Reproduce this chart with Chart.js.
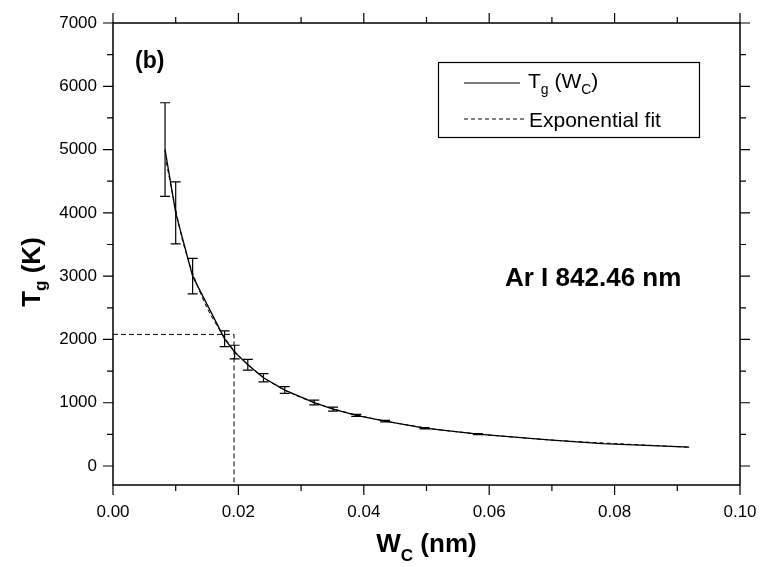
<!DOCTYPE html>
<html>
<head>
<meta charset="utf-8">
<script src="https://cdn.jsdelivr.net/npm/chart.js@4.4.1/dist/chart.umd.min.js"></script>
<style>
  html, body { margin: 0; padding: 0; background: #fff; }
  #wrap { width: 764px; height: 567px; }
</style>
</head>
<body>
<div id="wrap"><canvas id="chart"></canvas></div>
<script>
// measured points T_g(W_C) with error bars
const wc    = [0.0083, 0.0100, 0.0127, 0.0178, 0.0194, 0.0215, 0.0240, 0.0274, 0.0321, 0.0351, 0.0388, 0.0434, 0.0497, 0.0582, 0.0700, 0.0780, 0.0919];
const tg    = [5000, 4000, 3000, 2010, 1800, 1600, 1395, 1200, 1003, 898, 800, 708, 598, 503, 410, 355, 297];
const tgErr = [740, 490, 280, 125, 108, 85, 65, 53, 37, 32, 15, 12, 10, 8, 0, 0, 0];

// exponential fit curve
const fitWc = [0.0085, 0.0095, 0.0110, 0.0127, 0.0150, 0.0178, 0.0200, 0.0240, 0.0280, 0.0330, 0.0400, 0.0500, 0.0600, 0.0700, 0.0800, 0.0919];
const fitTg = [4800, 4300, 3600, 3050, 2500, 2030, 1750, 1400, 1170, 970, 780, 600, 490, 410, 355, 297];

// dashed guide lines
const guideWc = [0, 0.0193, 0.0193];
const guideTg = [2080, 2080, -300];

const xTicks = [0, 0.02, 0.04, 0.06, 0.08, 0.10];
const yTicks = [0, 1000, 2000, 3000, 4000, 5000, 6000, 7000];

const FONT = '"Liberation Sans", Arial, Helvetica, sans-serif';

function toPoints(xs, ys) {
    return xs.map((v, i) => ({ x: v, y: ys[i] }));
}

// draw text made of parts (normal + subscript)
function drawParts(ctx, parts, x, y, weight) {
    let cx = x;
    parts.forEach(p => {
        ctx.font = weight + ' ' + p.size + 'px ' + FONT;
        ctx.fillText(p.t, cx, y + (p.dy || 0));
        cx += ctx.measureText(p.t).width;
    });
    return cx - x;
}

function partsWidth(ctx, parts, weight) {
    let w = 0;
    parts.forEach(p => {
        ctx.font = weight + ' ' + p.size + 'px ' + FONT;
        w += ctx.measureText(p.t).width;
    });
    return w;
}

const framePlugin = {
    id: 'frame',
    afterDatasetsDraw(chart) {
        const ctx = chart.ctx;
        const a = chart.chartArea;
        const x = chart.scales.x, y = chart.scales.y;
        ctx.save();
        ctx.strokeStyle = '#000';
        ctx.fillStyle = '#000';

        // error bars
        ctx.lineWidth = 1.2;
        wc.forEach((v, i) => {
            const e = tgErr[i];
            if (!e) return;
            const px = x.getPixelForValue(v);
            const top = y.getPixelForValue(tg[i] + e);
            const bot = y.getPixelForValue(tg[i] - e);
            ctx.beginPath();
            ctx.moveTo(px, top); ctx.lineTo(px, bot);
            ctx.moveTo(px - 5, top); ctx.lineTo(px + 5, top);
            ctx.moveTo(px - 5, bot); ctx.lineTo(px + 5, bot);
            ctx.stroke();
        });

        // box
        ctx.lineWidth = 1.5;
        ctx.strokeRect(a.left, a.top, a.right - a.left, a.bottom - a.top);

        // ticks, major + minor
        ctx.lineWidth = 1.2;
        ctx.beginPath();
        for (let i = 0; i <= 14; i++) {
            const py = y.getPixelForValue(i * 500);
            const len = i % 2 === 0 ? 10 : 6;
            ctx.moveTo(a.left, py); ctx.lineTo(a.left - len, py);
            ctx.moveTo(a.right, py); ctx.lineTo(a.right + len, py);
        }
        for (let i = 0; i <= 10; i++) {
            const px = x.getPixelForValue(i * 0.01);
            const len = i % 2 === 0 ? 10 : 6;
            ctx.moveTo(px, a.bottom); ctx.lineTo(px, a.bottom + len);
            ctx.moveTo(px, a.top); ctx.lineTo(px, a.top - len);
        }
        ctx.stroke();

        // legend
        ctx.lineWidth = 1.2;
        ctx.strokeRect(438.5, 62.5, 261, 75);
        ctx.lineWidth = 1;
        ctx.beginPath();
        ctx.moveTo(464, 83); ctx.lineTo(520, 83);
        ctx.stroke();
        ctx.setLineDash([4, 3]);
        ctx.beginPath();
        ctx.moveTo(464, 119); ctx.lineTo(524, 119);
        ctx.stroke();
        ctx.setLineDash([]);
        ctx.textBaseline = 'alphabetic';
        ctx.textAlign = 'left';
        drawParts(ctx, [
            { t: 'T', size: 21 },
            { t: 'g', size: 14, dy: 6 },
            { t: ' (W', size: 21 },
            { t: 'C', size: 14, dy: 6 },
            { t: ')', size: 21 }
        ], 528, 88, 'normal');
        drawParts(ctx, [{ t: 'Exponential fit', size: 21 }], 529, 127, 'normal');

        ctx.restore();
    },
    afterDraw(chart) {
        const ctx = chart.ctx;
        const a = chart.chartArea;
        ctx.save();
        ctx.fillStyle = '#000';
        ctx.textBaseline = 'alphabetic';
        ctx.textAlign = 'left';

        drawParts(ctx, [{ t: '(b)', size: 23 }], 135, 68, 'bold');
        drawParts(ctx, [{ t: 'Ar I 842.46 nm', size: 26 }], 505, 286, 'bold');

        // x title
        const xParts = [
            { t: 'W', size: 26 },
            { t: 'C', size: 17, dy: 9 },
            { t: ' (nm)', size: 26 }
        ];
        const xw = partsWidth(ctx, xParts, 'bold');
        drawParts(ctx, xParts, (a.left + a.right) / 2 - xw / 2, 552, 'bold');

        // y title, rotated
        const yParts = [
            { t: 'T', size: 26 },
            { t: 'g', size: 17, dy: 6 },
            { t: ' (K)', size: 26 }
        ];
        const yw = partsWidth(ctx, yParts, 'bold');
        ctx.translate(40, 272);
        ctx.rotate(-Math.PI / 2);
        drawParts(ctx, yParts, -yw / 2, 0, 'bold');
        ctx.restore();
    }
};

const data = {
    datasets: [
        {
            label: 'Exponential fit',
            data: toPoints(fitWc, fitTg),
            showLine: true,
            borderColor: '#000',
            borderWidth: 1,
            borderDash: [4, 3],
            pointRadius: 0,
            tension: 0.3
        },
        {
            label: 'guide',
            data: toPoints(guideWc, guideTg),
            showLine: true,
            borderColor: '#000',
            borderWidth: 1,
            borderDash: [5, 3],
            pointRadius: 0
        },
        {
            label: 'Tg (Wc)',
            data: toPoints(wc, tg),
            showLine: true,
            borderColor: '#000',
            borderWidth: 1.3,
            pointRadius: 0
        }
    ]
};

document.addEventListener("DOMContentLoaded", () => {
    const ctx = document.getElementById('chart').getContext('2d');
    new Chart(ctx, {
        type: 'scatter',
        data: data,
        plugins: [framePlugin],
        options: {
            responsive: true,
            maintainAspectRatio: false,
            animation: false,
            layout: { padding: { top: 23, right: 24, left: 0, bottom: 0 } },
            plugins: {
                legend: { display: false },
                tooltip: { enabled: false }
            },
            scales: {
                x: {
                    type: 'linear',
                    min: 0,
                    max: 0.1,
                    // tick marks drawn by the plugin; tickLength only spaces the labels
                    grid: { display: false, drawTicks: true, tickLength: 14 },
                    border: { display: false },
                    afterBuildTicks: s => { s.ticks = xTicks.map(v => ({ value: v })); },
                    afterFit: s => { s.height = 82; },
                    ticks: {
                        padding: 3,
                        color: '#000',
                        maxRotation: 0,
                        autoSkip: false,
                        font: { size: 17, family: FONT },
                        callback: v => Number(v).toFixed(2)
                    }
                },
                y: {
                    type: 'linear',
                    min: -300,
                    max: 7000,
                    grid: { display: false, drawTicks: true, tickLength: 13 },
                    border: { display: false },
                    afterBuildTicks: s => { s.ticks = yTicks.map(v => ({ value: v })); },
                    afterFit: s => { s.width = 113; },
                    ticks: {
                        padding: 3,
                        color: '#000',
                        autoSkip: false,
                        font: { size: 17, family: FONT },
                        callback: v => String(v)
                    }
                }
            }
        }
    });
});
</script>
</body>
</html>
